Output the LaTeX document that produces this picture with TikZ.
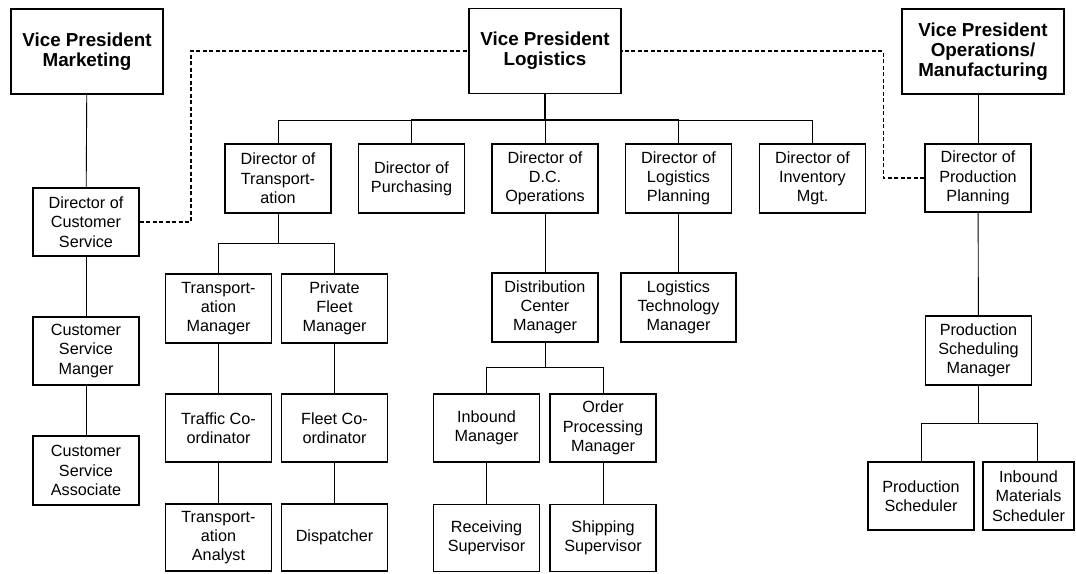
\documentclass[tikz,border=0pt]{standalone}
\usepackage{fontspec}
\setmainfont{Liberation Sans}
\usetikzlibrary{positioning}

\begin{document}
\begin{tikzpicture}[x=1pt,y=-1pt,
  box/.style={draw,line width=1.1pt,align=center,inner sep=0pt,minimum width=106pt,minimum height=68pt,font=\fontsize{16.2}{19.3}\selectfont},
  vpbox/.style={box,minimum height=85pt,minimum width=152pt,font=\bfseries\fontsize{18.8}{20}\selectfont},
  link/.style={line width=.9pt},
  trunk/.style={line width=1.7pt},
  dotline/.style={line width=1.9pt,dash pattern=on 4pt off 2.5pt}]
\useasboundingbox (0,0) rectangle (1076,573);
\node[vpbox] (vpm) at (87,51.5) {Vice President\\Marketing};
\node[vpbox] (vpl) at (545,51) {Vice President\\Logistics};
\node[vpbox,minimum width=162pt] (vpo) at (983,51.5) {Vice President\\Operations/\\Manufacturing};
\node[box] (dcs) at (86,222) {Director of\\Customer\\Service};
\node[box] (csm) at (86,351) {Customer\\Service\\Manger};
\node[box,minimum height=69pt] (csa) at (86,470.5) {Customer\\Service\\Associate};
\node[box,minimum height=69pt] (dot) at (278,178.5) {Director of\\Transport-\\ation};
\node[box,minimum height=69pt] (dop) at (411.5,178.5) {Director of\\Purchasing};
\node[box,minimum height=69pt] (dco) at (545,178.5) {Director of\\D.C.\\Operations};
\node[box,minimum height=69pt] (dlp) at (678.5,178.5) {Director of\\Logistics\\Planning};
\node[box,minimum height=69pt] (dim) at (812.5,178.5) {Director of\\Inventory\\Mgt.};
\node[box] (dpp) at (978,178) {Director of\\Production\\Planning};
\node[box,minimum height=69pt] (tm) at (218.5,308.5) {Transport-\\ation\\Manager};
\node[box,minimum height=69pt] (pfm) at (334.5,308.5) {Private\\Fleet\\Manager};
\node[box] (tc) at (218.5,428) {Traffic Co-\\ordinator};
\node[box] (fc) at (334.5,428) {Fleet Co-\\ordinator};
\node[box,minimum height=67pt] (ta) at (218.5,537.5) {Transport-\\ation\\Analyst};
\node[box,minimum height=67pt] (dsp) at (334.5,537.5) {Dispatcher};
\node[box,minimum height=69pt] (dcm) at (545,307.5) {Distribution\\Center\\Manager};
\node[box,minimum height=69pt,minimum width=115pt] (ltm) at (678.5,307.5) {Logistics\\Technology\\Manager};
\node[box] (im) at (486.5,428) {Inbound\\Manager};
\node[box] (opm) at (603,428) {Order\\Processing\\Manager};
\node[box,minimum height=67pt] (rs) at (486.5,538) {Receiving\\Supervisor};
\node[box,minimum height=67pt] (ss) at (603,538) {Shipping\\Supervisor};
\node[box,minimum height=69pt] (psm) at (978.5,350.5) {Production\\Scheduling\\Manager};
\node[box] (ps) at (921,496) {Production\\Scheduler};
\node[box,minimum width=91pt] (ims) at (1028.5,496) {Inbound\\Materials\\Scheduler};
\draw[link] (vpm) -- (dcs);
\draw[link] (dcs) -- (csm);
\draw[link] (csm) -- (csa);
\draw[link] (vpl.south) -- ++(0,26) -| (dot.north);
\draw[link] (vpl.south) -- ++(0,26) -| (dim.north);
\draw[trunk] (vpl.south) -- ++(0,26) -| (dop.north);
\draw[trunk] (vpl.south) -- ++(0,26) -| (dlp.north);
\draw[link] (vpl) -- (dco);
\draw[link] (dot.south) -- ++(0,30) -| (tm.north);
\draw[link] (dot.south) -- ++(0,30) -| (pfm.north);
\draw[link] (tm) -- (tc);
\draw[link] (tc) -- (ta);
\draw[link] (pfm) -- (fc);
\draw[link] (fc) -- (dsp);
\draw[link] (dco) -- (dcm);
\draw[link] (dlp) -- (ltm);
\draw[link] (dcm.south) -- ++(0,25) -| (im.north);
\draw[link] (dcm.south) -- ++(0,25) -| (opm.north);
\draw[link] (im) -- (rs);
\draw[link] (opm) -- (ss);
\draw[link] (vpo.south -| dpp.north) -- (dpp.north);
\draw[link] (dpp) -- (psm);
\draw[link] (psm.south) -- ++(0,38) -| (ps.north);
\draw[link] (psm.south) -- ++(0,38) -| ([xshift=8.5pt]ims.north);
\draw[dotline] (dcs.east) -- ++(51,0) |- (vpl.west);
\draw[dotline] (dpp.west) -- ++(-41,0) |- (vpl.east);
\end{tikzpicture}
\end{document}
